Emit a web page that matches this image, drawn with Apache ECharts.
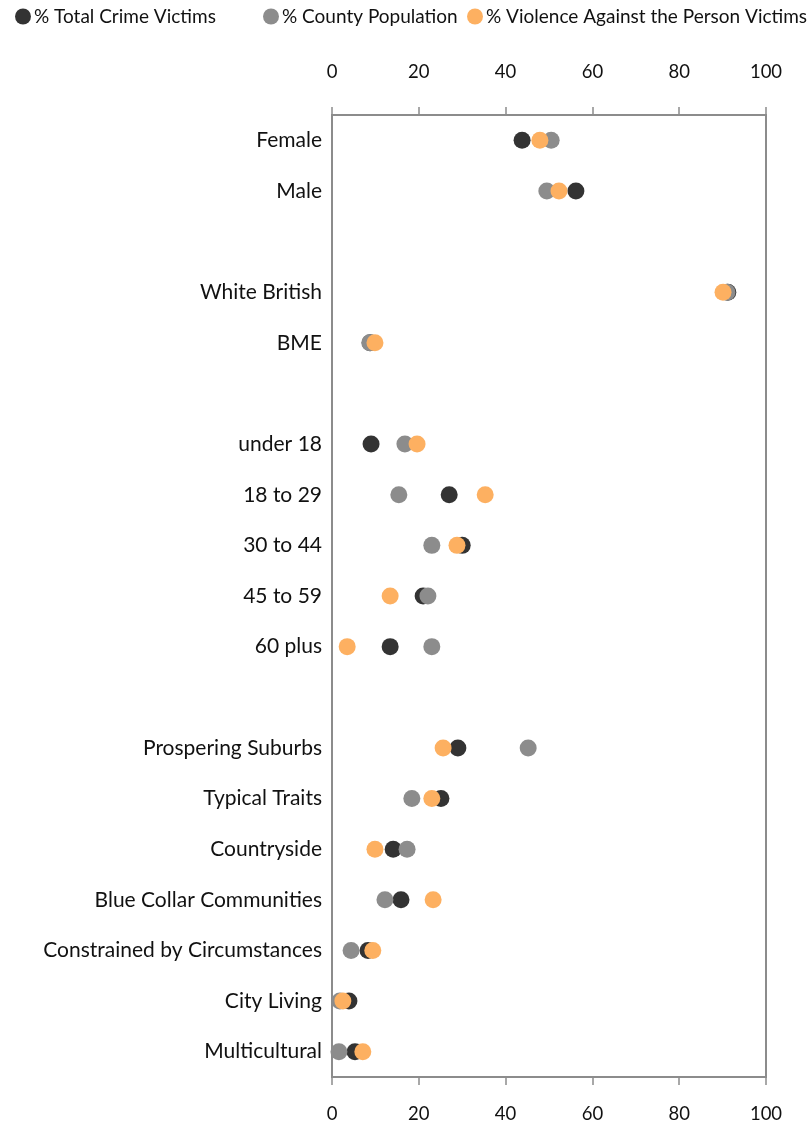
<!DOCTYPE html>
<html>
<head>
<meta charset="utf-8">
<script src="https://cdn.jsdelivr.net/npm/echarts@6/dist/echarts.min.js"></script>
<style>
html,body{margin:0;padding:0;background:#fff;}
#c{width:810px;height:1131px;}
</style>
</head>
<body>
<div id="c"></div>
<script>
var categories = ['Female','Male',' ','White British','BME','  ','under 18','18 to 29','30 to 44','45 to 59','60 plus','   ','Prospering Suburbs','Typical Traits','Countryside','Blue Collar Communities','Constrained by Circumstances','City Living','Multicultural'];
var totalCrime = [43.8, 56.2, null, 91.2, 8.8, null, 9.0, 27.0, 30.0, 21.0, 13.4, null, 29.0, 25.1, 14.1, 15.9, 8.3, 3.9, 5.3];
var countyPop  = [50.5, 49.5, null, 91.0, 8.7, null, 16.8, 15.4, 23.0, 22.1, 23.0, null, 45.2, 18.4, 17.3, 12.2, 4.4, 1.8, 1.6];
var violence   = [47.9, 52.3, null, 90.1, 9.9, null, 19.6, 35.3, 28.8, 13.4, 3.5, null, 25.6, 23.0, 9.9, 23.3, 9.4, 2.5, 7.1];
var xTicks = [0, 20, 40, 60, 80, 100];
var seriesNames = ['% Total Crime Victims', '% County Population', '% Violence Against the Person Victims'];
var colors = ['#333333', '#8c8c8c', '#fdb061'];

function toPoints(arr){
  var out = [];
  arr.forEach(function(v, i){ if (v !== null) out.push([v, i]); });
  return out;
}
var FONT = 'Lato';
var axisColor = '#8c8c8c';
function xAxis(pos, margin){
  return {
    type: 'value', position: pos, min: xTicks[0], max: xTicks[xTicks.length-1], interval: 20,
    axisLine: {show: true, lineStyle: {color: axisColor, width: 2}},
    axisTick: {show: true, length: 8, inside: false, lineStyle: {color: axisColor, width: 1.5}},
    splitLine: {show: false},
    axisLabel: {fontFamily: FONT, fontSize: 18.5, color: '#111', margin: margin}
  };
}
var chart = echarts.init(document.getElementById('c'), null, {renderer: 'canvas'});
var legends = [10, 258, 462].map(function(l, i){
  return {
    left: l, top: 2, itemWidth: 16, itemHeight: 16, itemGap: 0,
    icon: 'circle', data: [seriesNames[i]],
    textStyle: {fontFamily: FONT, fontSize: 19, color: '#111', padding: [0,0,0,-2]}
  };
});
chart.setOption({
  animation: false,
  legend: legends,
  grid: {left: 332, right: 44, top: 115, bottom: 54, show: true, borderColor: axisColor, borderWidth: 2, backgroundColor: 'transparent'},
  xAxis: [xAxis('top', 33), xAxis('bottom', 28)],
  yAxis: {
    type: 'category', inverse: true, data: categories, boundaryGap: true,
    axisLine: {show: true, lineStyle: {color: axisColor, width: 2}},
    axisTick: {show: false},
    splitLine: {show: false},
    axisLabel: {fontFamily: FONT, fontSize: 21, color: '#111', margin: 10}
  },
  series: [totalCrime, countyPop, violence].map(function(arr, i){
    return {
      name: seriesNames[i], type: 'scatter', xAxisIndex: 1,
      symbol: 'circle', symbolSize: 17,
      itemStyle: {color: colors[i], opacity: 1},
      data: toPoints(arr), z: 2 + i
    };
  })
});
</script>
</body>
</html>
